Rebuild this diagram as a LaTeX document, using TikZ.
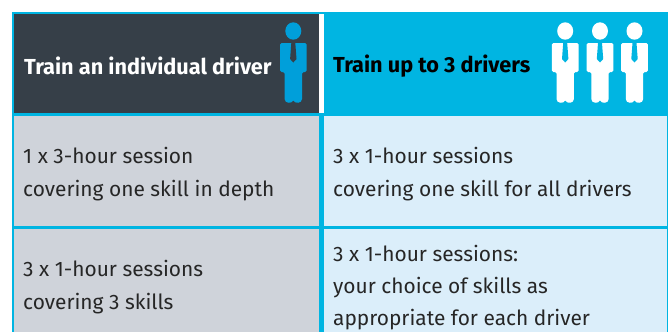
\documentclass[tikz,border=0pt]{standalone}
\usepackage{fontspec}
\setmainfont{Fira Sans}
\definecolor{cyanb}{HTML}{00B5E2}
\definecolor{darkh}{HTML}{363F48}
\definecolor{greyc}{HTML}{CFD3DA}
\definecolor{paleb}{HTML}{DBEEFA}
\definecolor{mancol}{HTML}{009FDA}
\tikzset{x=1pt,y=-1pt,
 cell/.style={anchor=west,align=left,font=\fontsize{20.9}{32.3}\selectfont\fontseries{l}\selectfont,text=black!85,inner sep=0pt},
 head/.style={anchor=west,font=\fontsize{21.7}{24}\selectfont\fontseries{sb}\selectfont,inner sep=0pt},
 man/.pic={
  \fill (0,-35) ellipse (8 and 8.7);
  \fill[rounded corners=1.5pt] (-13.3,-23) -- (13.3,-23) -- (13.3,6) -- (8.7,6) [sharp corners] -- (8.7,33)
     .. controls (8.7,37.5) and (1.5,38) .. (0,34.5)
     .. controls (-1.5,38) and (-8.7,37.5) .. (-8.7,33) [rounded corners=1.5pt] -- (-8.7,6) -- (-13.3,6) -- cycle;
  \fill[fill=\tikzpicturetiecol] (-2,-23) -- (2,-23) -- (3.2,-7) -- (0,-3.5) -- (-3.2,-7) -- cycle;
 }}
\begin{document}
\begin{tikzpicture}
\useasboundingbox (0,0) rectangle (672,332);
\fill[white] (0,0) rectangle (672,332);
\fill[cyanb] (12,12) rectangle (668,332);
\fill[darkh] (14,14) rectangle (319,113);
\fill[white] (319,14) rectangle (324,113);
\fill[greyc] (14,116) rectangle (319,226);
\fill[greyc] (14,229) rectangle (319,332);
\fill[paleb] (324,116) rectangle (667,226);
\fill[paleb] (324,229) rectangle (667,332);
\node[head,text=white] (h1) at (24,66) {Train an individual driver};
\node[head,text=black] (h2) at (333,66) {Train up to 3 drivers};
\node[cell] (a1) at (23,174) {1 x 3-hour session\\covering one skill in depth};
\node[cell] (a2) at (23,287) {3 x 1-hour sessions\\covering 3 skills};
\node[cell] (b1) at (333,174) {3 x 1-hour sessions\\covering one skill for all drivers};
\node[cell] (b2) at (333,287.5) {3 x 1-hour sessions:\\your choice of skills as\\appropriate for each driver};
\def\tikzpicturetiecol{darkh}
\begin{scope}[fill=mancol]
\pic at (293.3,66) {man};
\end{scope}
\def\tikzpicturetiecol{cyanb}
\begin{scope}[fill=white]
\pic at (565.2,66) {man};
\pic at (600,66) {man};
\pic at (634.5,66) {man};
\end{scope}
\end{tikzpicture}
\end{document}
